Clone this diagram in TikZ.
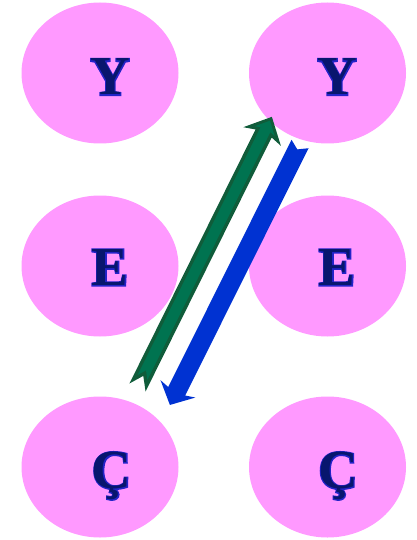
\documentclass[tikz,border=0pt]{standalone}
\usepackage{fontspec}
\usetikzlibrary{shapes.geometric}
\newfontfamily\lettrfont{Liberation Serif Bold}
\newfontfamily\lettrhalo{Liberation Serif Bold}[FakeBold=4]
\definecolor{ellpink}{RGB}{255,153,255}
\definecolor{navyink}{RGB}{8,22,110}
\definecolor{haloblue}{RGB}{35,35,200}
\definecolor{gdark}{RGB}{16,92,58}
\definecolor{glight}{RGB}{0,115,80}
\definecolor{arrblue}{RGB}{0,50,210}
\begin{document}
\begin{tikzpicture}[x=1pt,y=-1pt,
	ell/.style={ellipse,fill=ellpink,minimum width=157pt,minimum height=141pt,inner sep=0pt},
	glyph/.style={anchor=base,inner sep=0pt,text=navyink,font=\lettrfont\fontsize{55}{60}\selectfont},
	halo/.style={anchor=base,inner sep=0pt,text=haloblue,font=\lettrhalo\fontsize{55}{60}\selectfont}]
		\useasboundingbox (0,0) rectangle (417,540);
		
		\node[ell] (yl) at (100,73) {};
		\node[ell] (el) at (100,266) {};
		\node[ell] (cl) at (100,467) {};
		\node[ell] (yr) at (327.5,73) {};
		\node[ell] (er) at (327.5,266) {};
		\node[ell] (cr) at (327.5,467) {};
		
		\node[halo] at (110,95) {Y};
		\node[glyph] (tyl) at (110,95) {Y};
		\node[halo] at (110,285.5) {E};
		\node[glyph] (tel) at (110,285.5) {E};
		\node[halo] at (111.5,488.5) {Ç};
		\node[glyph] (tcl) at (111.5,488.5) {Ç};
		\node[halo] at (337,95) {Y};
		\node[glyph] (tyr) at (337,95) {Y};
		\node[halo] at (337,285.5) {E};
		\node[glyph] (ter) at (337,285.5) {E};
		\node[halo] at (338,488.5) {Ç};
		\node[glyph] (tcr) at (338,488.5) {Ç};
		
		% green arrow, up to the right
		\coordinate (gtail) at (137.5,387.5);
		\begin{scope}[shift={(gtail)},rotate=63.6]
			\fill[gdark] (13,0) -- (0,9) -- (283.6,9) -- (280.2,21) -- (302.2,0) -- (280.2,-21) -- (283.6,-9) -- (0,-9) -- cycle;
			\fill[glight] (19.2,0) -- (11.2,5.5) -- (287.8,5.5) -- (286.1,11.2) -- (297.9,0) -- (286.1,-11.2) -- (287.8,-5.5) -- (11.2,-5.5) -- cycle;
		\end{scope}
		
		% blue arrow, down to the left
		\coordinate (btail) at (300,144);
		\begin{scope}[shift={(btail)},rotate=243.5]
			\fill[arrblue] (6,0) -- (0,9.5) -- (276.3,9.5) -- (273.6,19.5) -- (291.6,0) -- (273.6,-19.5) -- (276.3,-9.5) -- (0,-9.5) -- cycle;
		\end{scope}
	\end{tikzpicture}
\end{document}
